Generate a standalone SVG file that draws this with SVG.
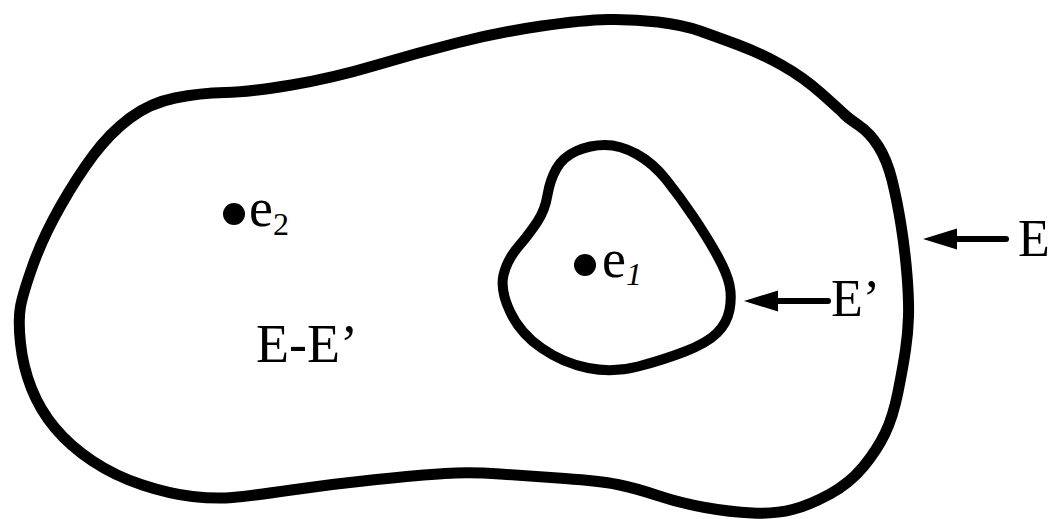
<svg xmlns="http://www.w3.org/2000/svg" width="1048" height="519" viewBox="0 0 1048 519">
<style>
.blob{fill:none;stroke:#000;stroke-linejoin:round}
.ln{stroke:#000;stroke-width:6;stroke-linecap:round;fill:none}
text{font-family:'Liberation Serif','Times New Roman',serif;fill:#000}
</style>
<rect width="1048" height="519" fill="#fff"/>
<g id="E">
<path class="blob" stroke-width="11" d="M 541.5,26 Q 583,20 608,19.5 Q 633,19 658,22 Q 683,25 700,31 Q 717,37 738.5,45 Q 760,53 781.5,65 Q 803,77 821.5,93.5 Q 840,110 844,114 Q 848,118 859,125.5 Q 870,133 878.5,146.5 Q 887,160 892,180 Q 897,200 901,225 Q 905,250 907,275 Q 909,300 908.5,316.5 Q 908,333 905.5,350 Q 903,367 898,392 Q 893,417 885,433.5 Q 877,450 863.5,466.5 Q 850,483 830,494 Q 810,505 792.5,509.5 Q 775,514 752.5,513 Q 730,512 705,507.5 Q 680,503 657.5,495.5 Q 635,488 617.5,484.5 Q 600,481 565,478.5 Q 530,476 500,474 Q 470,472 445,473.5 Q 420,475 376.5,479.5 Q 333,484 291.5,490 Q 250,496 232.5,497.5 Q 215,499 192.5,496.5 Q 170,494 142.5,485 Q 115,476 92.5,461 Q 70,446 55,428 Q 40,410 31.5,388.5 Q 23,367 20.5,343.5 Q 18,320 20.5,306.5 Q 23,293 33,265 Q 43,237 60,207 Q 77,177 93.5,155 Q 110,133 130,118 Q 150,103 175,98 Q 200,93 225,92.5 Q 250,92 291.5,85 Q 333,78 375,65.5 Q 417,53 458.5,42.5 Q 500,32 541.5,26 Z"/>
<text x="1018" y="256" font-size="52">E</text>
</g>
<g id="E-prime">
<path class="blob" stroke-width="10" d="M 576.5,151 Q 590,145 605,145 Q 620,145 636.5,154 Q 653,163 666.5,180 Q 680,197 693.5,217 Q 707,237 717,255 Q 727,273 729.5,285 Q 732,297 729.5,310 Q 727,323 717,333 Q 707,343 685,351.5 Q 663,360 638,366.5 Q 613,373 588,368 Q 563,363 541.5,348 Q 520,333 510,311.5 Q 500,290 503.5,275 Q 507,260 518.5,246.5 Q 530,233 537.5,221.5 Q 545,210 547.5,195 Q 550,180 556.5,168.5 Q 563,157 576.5,151 Z"/>
<text x="831" y="316" font-size="52">E’</text>
</g>
<g id="diff">
<text x="256" y="362" font-size="54">E-E’</text>
</g>
<g id="e1">
<circle cx="585" cy="265" r="11"/>
<text x="602" y="277" font-size="54">e<tspan font-size="32" font-style="italic" dy="8">1</tspan></text>
</g>
<g id="e2">
<circle cx="234" cy="214" r="11"/>
<text x="249" y="226" font-size="54">e<tspan font-size="32" dy="9">2</tspan></text>
</g>
<g id="connectors">
<line class="ln" x1="955" y1="239" x2="1006" y2="239"/>
<polygon points="923,239 957,228.5 957,249.5"/>
<line class="ln" x1="776" y1="301" x2="828" y2="301"/>
<polygon points="744,301 778,290.5 778,311.5"/>
</g>
</svg>
